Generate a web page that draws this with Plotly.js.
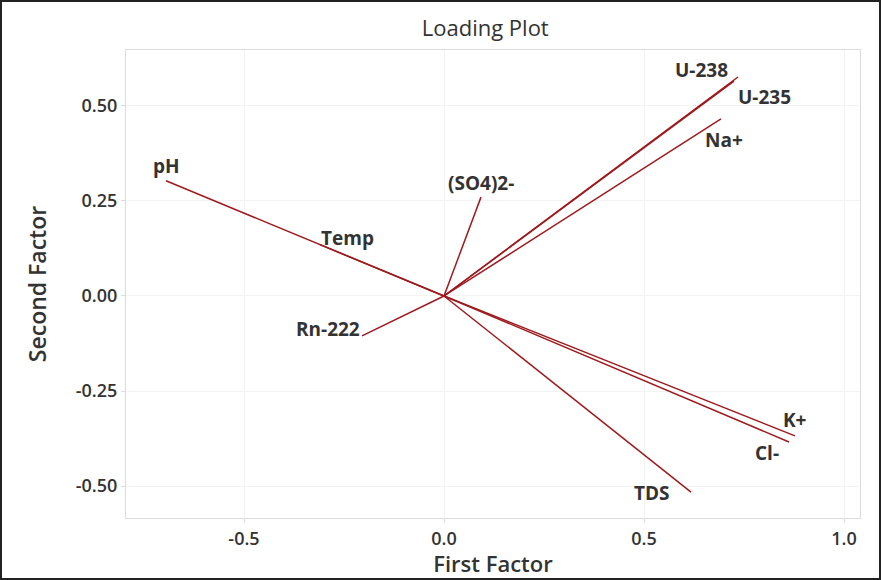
<!DOCTYPE html>
<html><head><meta charset="utf-8">
<script src="https://cdn.plot.ly/plotly-3.0.1.min.js"></script>
<style>html,body{margin:0;padding:0;background:#fff}#c{width:881px;height:580px;box-sizing:border-box;border:2px solid #222;}</style>
</head><body><div id="c"></div>
<script>
const variables = ["U-238","U-235","Na+","pH","Temp","(SO4)2-","Rn-222","K+","Cl-","TDS"];
const firstFactor = [0.735, 0.725, 0.6925, -0.695, -0.31, 0.0925, -0.205, 0.8775, 0.8625, 0.6175];
const secondFactor = [0.576, 0.565, 0.466, 0.303, 0.135, 0.26, -0.105, -0.368, -0.384, -0.516];
const xTicks = [-0.5, 0.0, 0.5, 1.0];
const yTicks = [-0.50, -0.25, 0.00, 0.25, 0.50];

// label placement offsets in pixels (style only)
const labelShift = {
  "U-238":[-37,7,"center"], "U-235":[30,-16,"center"], "Na+":[3,-21,"center"],
  "pH":[0,15,"center"], "Temp":[27,7,"center"], "(SO4)2-":[0,14,"center"],
  "Rn-222":[0,7,"right"], "K+":[0,16,"center"], "Cl-":[-22,-11,"center"], "TDS":[-39,-1,"center"]
};
const lineColor = "#9e1a1e";
const traces = variables.map((v,i)=>({
  type:"scatter", mode:"lines", x:[0, firstFactor[i]], y:[0, secondFactor[i]],
  line:{color:lineColor, width:1.5}, hoverinfo:"skip", showlegend:false
}));
const fontFam = "'Open Sans', 'Noto Sans', sans-serif";
const annotations = variables.map((v,i)=>({
  x:firstFactor[i], y:secondFactor[i], xref:"x", yref:"y", text:v, showarrow:false,
  xshift:labelShift[v][0], yshift:labelShift[v][1], xanchor:labelShift[v][2], yanchor:"middle",
  font:{family:fontFam, size:19, color:"#333", weight:700}
}));
const layout = {
  width:877, height:576,
  margin:{l:124, r:19, t:48, b:60},
  paper_bgcolor:"#fff", plot_bgcolor:"#fff",
  title:{text:"Loading Plot", x:0.551, xref:"container", xanchor:"center", y:0.955, yref:"container", yanchor:"middle",
    font:{family:fontFam, size:22, color:"#333"}},
  xaxis:{range:[-0.795,1.04], tickvals:xTicks, ticktext:xTicks.map(t=>t.toFixed(1)),
    showgrid:true, gridcolor:"#f3f3f3", zeroline:false, showline:true, linecolor:"#dcdcdc", mirror:true,
    ticks:"outside", ticklen:4, tickcolor:"#dcdcdc",
    tickfont:{family:fontFam, size:18, color:"#333", weight:600},
    title:{text:"First Factor", standoff:9, font:{family:fontFam, size:22, color:"#333", weight:600}}},
  yaxis:{range:[-0.584,0.647], tickvals:yTicks, ticktext:yTicks.map(t=>t.toFixed(2)),
    showgrid:true, gridcolor:"#f3f3f3", zeroline:false, showline:true, linecolor:"#dcdcdc", mirror:true,
    ticks:"outside", ticklen:4, tickcolor:"#dcdcdc",
    tickfont:{family:fontFam, size:18, color:"#333", weight:600},
    title:{text:"Second Factor", standoff:22, font:{family:fontFam, size:23, color:"#333", weight:600}}},
  annotations:annotations
};
Plotly.newPlot("c", traces, layout, {displayModeBar:false, staticPlot:true});
</script></body></html>
